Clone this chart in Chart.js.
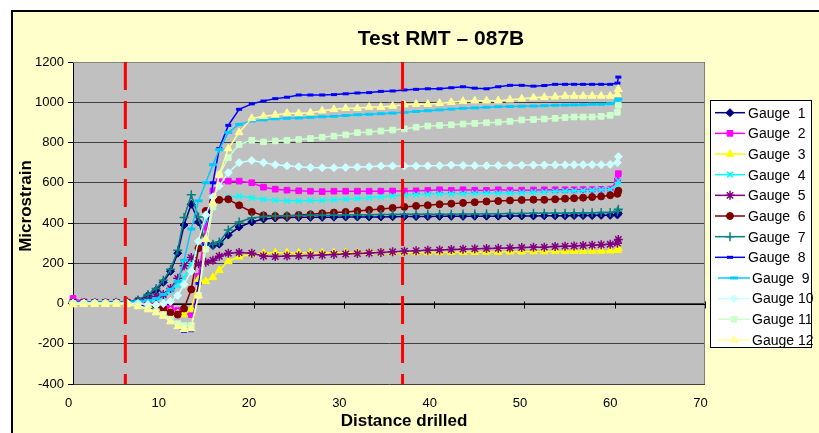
<!DOCTYPE html>
<html>
<head>
<meta charset="utf-8">
<title>Test RMT – 087B</title>
<script src="https://cdn.jsdelivr.net/npm/chart.js@4.4.0/dist/chart.umd.min.js"></script>
<style>
	html, body { margin: 0; padding: 0; background: #fff; overflow: hidden; }
	#frame { position: absolute; left: 11px; top: 10px; width: 900px; height: 500px;
		border: 2px solid #000; background: #ffffcc; }
	#chart { position: absolute; left: 0; top: 0; }
</style>
</head>
<body>
<div id="frame"></div>
<canvas id="chart" width="819" height="433"></canvas>
<script>
// distance drilled (shared by all gauges)
var DIST = [
	0, 1.2, 2.4, 3.6, 4.8, 6.0, 7.2, 8.3, 9.2, 10.0, 10.8,
	11.6, 12.3, 13.1, 13.9, 14.7, 15.5, 16.2, 17.2, 18.4, 19.8, 21.1,
	22.4, 23.7, 25.0, 26.3, 27.6, 28.9, 30.2, 31.5, 32.8, 34.1, 35.4,
	36.7, 38.0, 39.3, 40.6, 41.9, 43.2, 44.5, 45.8, 47.1, 48.4, 49.7,
	51.0, 52.2, 53.4, 54.5, 55.5, 56.5, 57.5, 58.5, 59.5, 60.3, 60.4
];

var GAUGE_1 = [
	8, 6, 5, 5, 6, 8, 15, 40, 65, 105, 160,
	250, 390, 493, 405, 300, 288, 295, 340, 380, 405, 420,
	425, 427, 428, 428, 428, 429, 430, 430, 430, 430, 431,
	432, 432, 432, 433, 433, 433, 434, 434, 434, 435, 435,
	435, 436, 436, 436, 437, 437, 437, 438, 438, 440, 448
];
var GAUGE_2 = [
	25, 8, 5, 5, 5, 5, 3, 0, -5, -12, -22,
	-35, -50, -55, 135, 380, 560, 605, 608, 608, 600, 578,
	568, 563, 560, 558, 556, 558, 558, 558, 558, 558, 559,
	559, 560, 562, 565, 562, 565, 563, 562, 565, 563, 563,
	564, 565, 565, 565, 565, 566, 566, 567, 568, 610, 645
];
var GAUGE_3 = [
	-5, -3, -2, -2, -3, -3, -5, -10, -18, -28, -40,
	-50, -55, -30, 120, 110, 130, 165, 210, 232, 245, 250,
	252, 252, 252, 252, 252, 252, 253, 253, 253, 253, 253,
	254, 254, 254, 254, 255, 255, 255, 256, 256, 257, 257,
	258, 258, 259, 259, 260, 260, 261, 261, 262, 265, 275
];
var GAUGE_4 = [
	5, 5, 5, 5, 5, 5, 8, 12, 20, 35, 60,
	90, 130, 200, 300, 420, 480, 512, 528, 534, 525, 518,
	513, 510, 510, 512, 513, 515, 518, 522, 526, 530, 534,
	538, 541, 543, 545, 545, 546, 547, 548, 549, 550, 551,
	553, 554, 556, 558, 560, 561, 563, 565, 567, 590, 610
];
var GAUGE_5 = [
	5, 5, 5, 5, 5, 6, 12, 22, 35, 45, 75,
	125, 187, 228, 197, 205, 215, 235, 250, 253, 250, 236,
	233, 236, 237, 239, 241, 244, 246, 248, 251, 254, 257,
	260, 262, 265, 266, 268, 270, 272, 273, 274, 276, 278,
	279, 280, 283, 285, 286, 288, 290, 292, 294, 300, 318
];
var GAUGE_6 = [
	5, 4, 3, 3, 3, 2, 0, -5, -12, -25, -45,
	-55, -25, 70, 275, 460, 505, 515, 518, 488, 455, 438,
	435, 435, 440, 443, 448, 452, 455, 460, 465, 470, 475,
	480, 485, 488, 493, 496, 500, 503, 507, 509, 512, 514,
	516, 515, 518, 521, 523, 526, 529, 532, 538, 545, 560
];
var GAUGE_7 = [
	5, 5, 5, 5, 6, 8, 18, 45, 75, 115, 170,
	265, 427, 540, 430, 290, 295, 305, 365, 405, 425, 432,
	435, 436, 437, 438, 438, 439, 440, 440, 441, 442, 442,
	443, 443, 443, 444, 444, 445, 445, 446, 446, 447, 447,
	448, 448, 449, 449, 450, 450, 451, 452, 452, 458, 468
];
var GAUGE_8 = [
	5, 5, 5, 5, 5, 2, -5, -20, -35, -55, -85,
	-120, -138, -135, 100, 290, 600, 770, 885, 965, 992, 1006,
	1018, 1025, 1036, 1036, 1036, 1038, 1042, 1046, 1048, 1054, 1056,
	1061, 1064, 1067, 1067, 1072, 1077, 1070, 1067, 1077, 1084, 1084,
	1080, 1083, 1089, 1089, 1089, 1089, 1089, 1089, 1089, 1095, 1125
];
var GAUGE_9 = [
	5, 5, 5, 5, 5, 6, 10, 15, 25, 45, 70,
	110, 215, 370, 510, 600, 690, 765, 850, 890, 907, 912,
	918, 920, 922, 925, 928, 930, 934, 938, 940, 943, 946,
	950, 954, 958, 962, 966, 970, 972, 975, 978, 979, 980,
	981, 983, 985, 986, 987, 988, 990, 990, 993, 1000, 1015
];
var GAUGE_10 = [
	3, 3, 3, 3, 3, 2, 0, -5, -8, 0, 10,
	40, 95, 160, 310, 440, 530, 584, 650, 700, 711, 700,
	690, 684, 680, 676, 675, 675, 676, 678, 680, 683, 683,
	683, 683, 684, 685, 688, 686, 685, 685, 686, 686, 687,
	688, 688, 689, 689, 690, 690, 690, 690, 691, 700, 730
];
var GAUGE_11 = [
	0, 0, 0, 0, 0, -3, -10, -25, -40, -55, -78,
	-100, -110, -108, 40, 270, 480, 640, 725, 790, 811, 803,
	808, 811, 815, 820, 826, 832, 838, 849, 852, 857, 862,
	868, 876, 882, 885, 888, 892, 895, 898, 901, 905, 912,
	914, 917, 920, 924, 927, 927, 927, 930, 935, 950, 985
];
var GAUGE_12 = [
	-5, -4, -3, -3, -3, -2, -15, -30, -45, -62, -90,
	-115, -128, -125, 40, 320, 500, 640, 770, 850, 920, 930,
	937, 945, 945, 948, 958, 965, 970, 970, 976, 976, 981,
	988, 991, 990, 995, 1000, 1005, 1008, 1008, 1008, 1012, 1017,
	1023, 1025, 1027, 1031, 1031, 1031, 1031, 1031, 1031, 1040, 1065
];

var GAUGE_NAMES = ['Gauge  1', 'Gauge  2', 'Gauge  3', 'Gauge  4', 'Gauge  5', 'Gauge  6',
	'Gauge  7', 'Gauge  8', 'Gauge  9', 'Gauge 10', 'Gauge 11', 'Gauge 12'];
var GAUGE_VALUES = [GAUGE_1, GAUGE_2, GAUGE_3, GAUGE_4, GAUGE_5, GAUGE_6,
	GAUGE_7, GAUGE_8, GAUGE_9, GAUGE_10, GAUGE_11, GAUGE_12];

// red dashed markers (distance drilled)
var CUT_LINES = [5.8, 36.5];

var X_MIN = 0, X_MAX = 70, X_STEP = 10;
var Y_MIN = -400, Y_MAX = 1200, Y_STEP = 200;

var COLORS = ['#000080', '#ff00ff', '#ffff00', '#00ffff', '#800080', '#800000',
	'#008080', '#0000ff', '#00ccff', '#ccffff', '#ccffcc', '#ffff99'];
var MARKERS = [
	{ style: 'rectRot', r: 4, w: 1 },
	{ style: 'rect', r: 4, w: 1 },
	{ style: 'triangle', r: 4.5, w: 1 },
	{ style: 'crossRot', r: 4, w: 1.5 },
	{ style: 'star', r: 4.5, w: 1.5 },
	{ style: 'circle', r: 3.5, w: 1 },
	{ style: 'cross', r: 4.5, w: 1.5 },
	{ style: 'line', r: 3, w: 3 },
	{ style: 'line', r: 4, w: 3 },
	{ style: 'rectRot', r: 4, w: 1 },
	{ style: 'rect', r: 4, w: 1 },
	{ style: 'triangle', r: 4.5, w: 1 }
];

var FONT = '"Liberation Sans", Arial, sans-serif';

function buildDatasets() {
	var sets = [];
	for (var c = 0; c < CUT_LINES.length; c++) {
		sets.push({
			label : 'cut',
			data : [ { x : CUT_LINES[c], y : Y_MAX }, { x : CUT_LINES[c], y : Y_MIN } ],
			borderColor : '#ff0000',
			borderWidth : 3,
			borderDash : [ 28, 11 ],
			pointRadius : 0,
			order : 0
		});
	}
	for (var i = 0; i < GAUGE_VALUES.length; i++) {
		var pts = [];
		for (var j = 0; j < DIST.length; j++) {
			pts.push({ x : DIST[j], y : GAUGE_VALUES[i][j] });
		}
		sets.push({
			label : GAUGE_NAMES[i],
			data : pts,
			borderColor : COLORS[i],
			backgroundColor : COLORS[i],
			pointBackgroundColor : COLORS[i],
			pointBorderColor : COLORS[i],
			pointStyle : MARKERS[i].style,
			pointRadius : MARKERS[i].r,
			pointBorderWidth : MARKERS[i].w,
			borderWidth : 1.5,
			lineTension : 0,
			clip : false,
			order : GAUGE_VALUES.length - i
		});
	}
	return sets;
}

// grey plot area, frame and the x axis tick marks at y = 0
var plotArea = {
	id : 'plotArea',
	beforeDraw : function(chart) {
		var a = chart.chartArea, ctx = chart.ctx;
		ctx.save();
		ctx.fillStyle = '#c0c0c0';
		ctx.fillRect(a.left, a.top, a.right - a.left, a.bottom - a.top);
		ctx.restore();
	},
	beforeDatasetsDraw : function(chart) {
		var a = chart.chartArea, ctx = chart.ctx;
		var xs = chart.scales.x, ys = chart.scales.y;
		ctx.save();
		ctx.strokeStyle = '#808080';
		ctx.lineWidth = 1;
		ctx.beginPath();
		ctx.moveTo(a.left, a.top + 0.5);
		ctx.lineTo(a.right - 0.5, a.top + 0.5);
		ctx.lineTo(a.right - 0.5, a.bottom);
		ctx.stroke();
		var y0 = Math.round(ys.getPixelForValue(0)) + 0.5;
		ctx.strokeStyle = '#000';
		ctx.beginPath();
		ctx.moveTo(a.left, y0);
		ctx.lineTo(a.right, y0);
		for (var v = X_MIN; v <= X_MAX; v += X_STEP) {
			var px = Math.round(xs.getPixelForValue(v)) + 0.5;
			ctx.moveTo(px, y0 - 3);
			ctx.lineTo(px, y0 + 4);
		}
		ctx.stroke();
		ctx.restore();
	}
};

// title, axis titles and the legend box
var chartText = {
	id : 'chartText',
	afterDraw : function(chart) {
		var ctx = chart.ctx;
		ctx.save();
		ctx.fillStyle = '#000';
		ctx.textAlign = 'center';
		ctx.textBaseline = 'middle';
		ctx.font = 'bold 21px ' + FONT;
		ctx.fillText('Test RMT \u2013 087B', 441, 39);
		ctx.font = 'bold 17px ' + FONT;
		ctx.fillText('Distance drilled', 404, 421);
		ctx.save();
		ctx.translate(26, 206);
		ctx.rotate(-Math.PI / 2);
		ctx.fillText('Microstrain', 0, 0);
		ctx.restore();

		// legend
		var bx = 710, by = 100, bw = 101, bh = 247;
		ctx.fillStyle = '#fff';
		ctx.fillRect(bx, by, bw, bh);
		ctx.strokeStyle = '#000';
		ctx.lineWidth = 1;
		ctx.strokeRect(bx + 0.5, by + 0.5, bw, bh);
		ctx.font = '14px ' + FONT;
		ctx.textAlign = 'left';
		for (var i = 0; i < GAUGE_NAMES.length; i++) {
			var y = 112.7 + i * 20.66;
			var x1 = i < 8 ? 715 : 718, x2 = i < 8 ? 745 : 750, tx = i < 8 ? 748 : 752;
			ctx.strokeStyle = COLORS[i];
			ctx.lineWidth = 1.5;
			ctx.beginPath();
			ctx.moveTo(x1, y);
			ctx.lineTo(x2, y);
			ctx.stroke();
			if (Chart.helpers && Chart.helpers.drawPoint) {
				ctx.fillStyle = COLORS[i];
				ctx.lineWidth = MARKERS[i].w;
				Chart.helpers.drawPoint(ctx, {
					pointStyle : MARKERS[i].style,
					radius : MARKERS[i].r,
					borderWidth : MARKERS[i].w,
					rotation : 0
				}, (x1 + x2) / 2, y);
			}
			ctx.fillStyle = '#000';
			ctx.fillText(GAUGE_NAMES[i], tx, y + 1);
		}
		ctx.restore();
	}
};

var tickFont = { family : FONT, size : 13 };

new Chart(document.getElementById('chart'), {
	type : 'line',
	data : { datasets : buildDatasets() },
	plugins : [ plotArea, chartText ],
	options : {
		responsive : false,
		animation : false,
		layout : { padding : { left : 0, top : 62, right : 114, bottom : 0 } },
		plugins : {
			legend : { display : false },
			title : { display : false },
			tooltip : { enabled : false }
		},
		scales : {
			x : {
				type : 'linear',
				min : X_MIN,
				max : X_MAX,
				afterFit : function(s) { s.height = 49; },
				grid : { display : false, drawTicks : false },
				border : { display : false },
				ticks : { stepSize : X_STEP, padding : 12, labelOffset : -4.5,
					maxRotation : 0, color : '#000', font : tickFont }
			},
			y : {
				min : Y_MIN,
				max : Y_MAX,
				afterFit : function(s) { s.width = 73; },
				grid : { color : '#404040', lineWidth : 1, tickLength : 5, tickColor : '#000' },
				border : { display : true, color : '#000', width : 1 },
				ticks : { stepSize : Y_STEP, padding : 4, color : '#000', font : tickFont,
					callback : function(v) { return String(v); } }
			}
		}
	}
});
</script>
</body>
</html>
